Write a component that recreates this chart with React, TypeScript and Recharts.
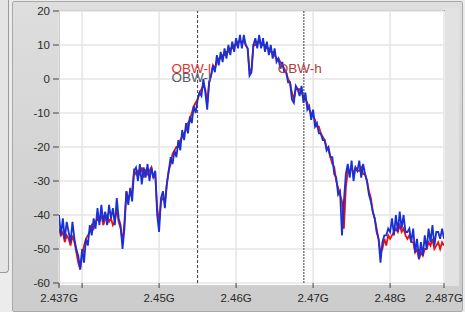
import React from 'react';
import { LineChart, Line, XAxis, YAxis, CartesianGrid, ReferenceLine } from 'recharts';

const FREQ_START = 2.437;
const FREQ_STEP = 0.00025;

const blueTrace = [
  -40, -46, -41, -47, -42, -45, -48, -42, -47, -50,
  -52, -56, -50, -54, -47, -49, -43, -46, -41, -44,
  -38, -43, -37, -42, -39, -43, -37, -41, -38, -43,
  -35, -41, -43, -50, -44, -33, -37, -32, -36, -27,
  -26, -30, -25, -31, -26, -29, -25, -30, -26, -29,
  -27, -40, -45, -35, -33, -38, -31, -27, -23, -25,
  -21, -23, -18, -21, -15, -18, -13, -16, -11, -13,
  -8, -10, -6, -4, -5, 0, -4, -9, -1, 1,
  4, 2, 7, 4, 8, 5, 9, 6, 10, 7,
  11, 8, 12, 9, 13, 9, 13, 10, 9, 1,
  2, 10, 12, 9, 13, 9, 12, 8, 11, 7,
  10, 6, 9, 5, 6, 3, 5, 2, 2, -1,
  -1, -6, -7, -2, -3, -5, -2, -7, -4, -9,
  -8, -12, -9, -14, -13, -16, -16, -18, -18, -21,
  -20, -23, -23, -28, -29, -34, -33, -46, -36, -28,
  -25, -29, -24, -30, -26, -27, -24, -29, -25, -28,
  -30, -34, -36, -39, -41, -45, -47, -54, -48, -46,
  -46, -44, -45, -41, -46, -40, -45, -39, -44, -40,
  -45, -45, -44, -48, -44, -51, -47, -53, -48, -52,
  -46, -50, -44, -48, -43, -49, -45, -45, -47, -44,
  -47,
];

const redTrace = [
  -44, -46, -45, -48, -46, -47, -49, -46, -48, -51,
  -54, -56, -52, -49, -47, -46, -45, -43, -44, -42,
  -41, -42, -40, -43, -41, -40, -42, -41, -43, -42,
  -38, -42, -44, -48, -42, -33, -35, -34, -33, -27,
  -28, -27, -28, -26, -29, -27, -28, -27, -26, -29,
  -28, -38, -42, -36, -35, -36, -31, -27, -25, -22,
  -21, -20, -20, -18, -17, -16, -15, -13, -12, -10,
  -8, -7, -6, -4, -3, -2, -3, -7, -1, 1,
  4, 3, 5, 6, 6, 7, 7, 8, 8, 9,
  9, 10, 10, 11, 11, 11, 11, 10, 9, 2,
  3, 10, 10, 11, 11, 10, 10, 10, 9, 9,
  8, 8, 7, 6, 6, 5, 4, 3, 2, 0,
  -1, -4, -6, -3, -3, -3, -4, -5, -6, -7,
  -9, -10, -11, -12, -14, -14, -16, -17, -18, -20,
  -21, -23, -25, -26, -30, -32, -34, -36, -44, -32,
  -27, -27, -26, -28, -26, -27, -27, -26, -28, -28,
  -30, -33, -35, -39, -41, -44, -47, -51, -50, -47,
  -49, -46, -47, -46, -45, -44, -45, -43, -45, -44,
  -46, -47, -46, -48, -48, -51, -50, -53, -51, -52,
  -50, -50, -48, -49, -47, -50, -49, -48, -50, -48,
  -49,
];

const xTicks = [2.437, 2.44, 2.45, 2.46, 2.47, 2.48, 2.487];
const yTicks = [-60, -50, -40, -30, -20, -10, 0, 10, 20];
const markerLow = 2.455;
const markerHigh = 2.4688;
const markerLowLabel = 'OBW-l';
const markerHighLabel = 'OBW-h';

const data = blueTrace.map((b, i) => ({
  f: +(FREQ_START + i * FREQ_STEP).toFixed(5),
  blue: b,
  red: redTrace[i],
}));

const FONT = '"Liberation Sans", Arial, sans-serif';

const MarkerLabel = (props: any) => {
  const { viewBox, text, dual } = props;
  if (!viewBox) return null;
  const x = viewBox.x - 26;
  const y = viewBox.y + 62;
  return (
    <g style={{ fontFamily: FONT, fontSize: 13.5 }}>
      {dual ? (
        <>
          <text x={x} y={y} fill="#e03030">{text}</text>
          <text x={x} y={y + 9} fill="#555a66">{text}</text>
        </>
      ) : (
        <text x={x} y={y} fill="#b03c3c">{text}</text>
      )}
    </g>
  );
};

export default function App() {
  return (
    <div style={{ position: 'absolute', left: 0, top: 0, width: 465, height: 312, background: '#ececec', overflow: 'hidden' }}>
      <div style={{ position: 'absolute', left: 0, top: 0, width: 8, height: 272, background: '#e4e4e4', borderRight: '1px solid #9a9a9a', borderBottom: '1px solid #9a9a9a', borderBottomRightRadius: 4 }} />
      <div style={{ position: 'absolute', left: 12, top: 1, width: 449, height: 309, background: 'linear-gradient(180deg, #dedede 0%, #d2d2d2 60%, #cccccc 100%)', border: '1px solid #a8a8a8', borderRadius: 2 }} />
      <div style={{ position: 'absolute', left: 444, top: 8, width: 15, height: 278, background: '#e2e2e2' }} />
      <div style={{ position: 'absolute', left: 59, top: 10, width: 385, height: 274, background: '#ffffff', borderLeft: '1px solid #8c8c8c', borderTop: '1px solid #9a9a9a' }} />
      <div style={{ position: 'absolute', left: 0, top: 0 }}>
        <LineChart width={465} height={312} data={data} margin={{ top: 11, right: 21, bottom: 0, left: 0 }}>
          <CartesianGrid stroke="#e4e4e4" strokeWidth={1.5} horizontalValues={yTicks} verticalValues={xTicks} />
          <XAxis
            dataKey="f"
            type="number"
            domain={[2.437, 2.487]}
            ticks={xTicks}
            tickFormatter={(v: number) => (v === 2.44 ? '' : `${v}G`)}
            height={29}
            tickSize={5}
            tickMargin={6}
            axisLine={false}
            tickLine={{ stroke: '#444' }}
            tick={{ fill: '#2a2a2a', fontSize: 11.5, fontFamily: FONT }}
            interval={0}
            allowDataOverflow
          />
          <YAxis
            type="number"
            domain={[-60, 20]}
            ticks={yTicks}
            width={59}
            tickSize={6}
            tickMargin={3}
            axisLine={false}
            tickLine={{ stroke: '#444' }}
            tick={{ fill: '#2a2a2a', fontSize: 11.5, fontFamily: FONT }}
            interval={0}
          />
          <Line type="linear" dataKey="red" stroke="#e81010" strokeWidth={1.8} dot={false} isAnimationActive={false} />
          <Line type="linear" dataKey="blue" stroke="#1830d8" strokeWidth={1.8} dot={false} isAnimationActive={false} />
          <ReferenceLine x={markerLow} stroke="#3a3a3a" strokeDasharray="3 2" label={<MarkerLabel text={markerLowLabel} dual />} />
          <ReferenceLine x={markerHigh} stroke="#3a3a3a" strokeDasharray="2 1" label={<MarkerLabel text={markerHighLabel} />} />
        </LineChart>
      </div>
    </div>
  );
}
